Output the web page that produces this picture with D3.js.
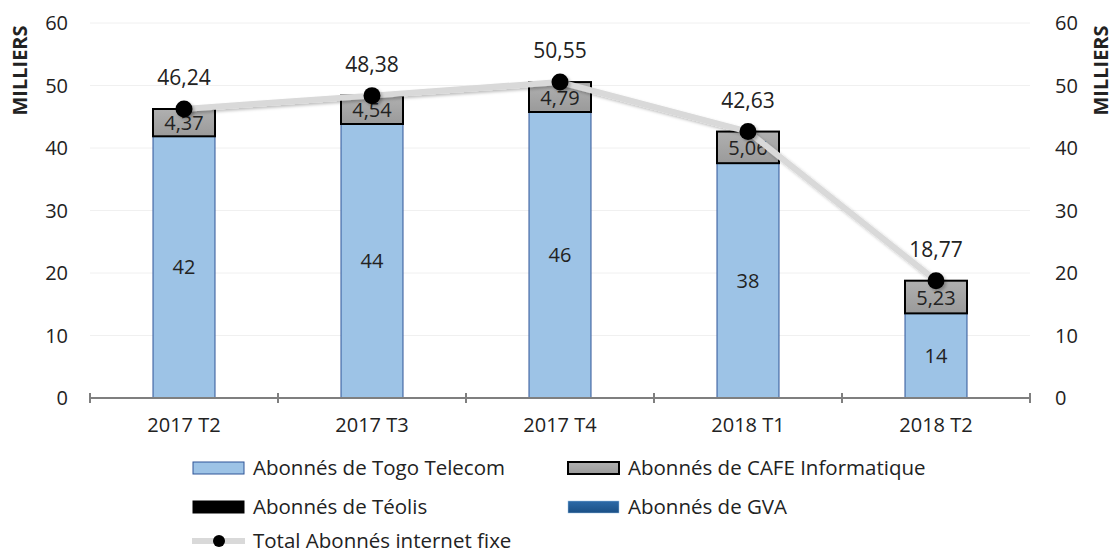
<!DOCTYPE html>
<html>
<head>
<meta charset="utf-8">
<script src="https://cdn.jsdelivr.net/npm/d3@7"></script>
<style>
body { margin: 0; background: #fff; }
text { font-family: "Open Sans", "Noto Sans", sans-serif; fill: #222; }
</style>
</head>
<body>
<div id="chart"></div>
<script>
// Data
const periods = ["2017 T2", "2017 T3", "2017 T4", "2018 T1", "2018 T2"];
const togo = [41.87, 43.84, 45.76, 37.57, 13.54];
const cafe = [4.37, 4.54, 4.79, 5.06, 5.23];
const teolis = [0, 0, 0, 0, 0];
const gva = [0, 0, 0, 0, 0];
const total = [46.24, 48.38, 50.55, 42.63, 18.77];
const yTicks = [0, 10, 20, 30, 40, 50, 60];

const W = 1113, H = 555;
const margin = { top: 23, right: 83, bottom: 157, left: 90 };
const width = W - margin.left - margin.right;
const height = H - margin.top - margin.bottom;

const svg = d3.select("#chart").append("svg")
    .attr("width", W)
    .attr("height", H);

const defs = svg.append("defs");
const gGrey = defs.append("linearGradient").attr("id", "grey").attr("x1", 0).attr("x2", 0).attr("y1", 0).attr("y2", 1);
gGrey.append("stop").attr("offset", "0%").attr("stop-color", "#b0b0b0");
gGrey.append("stop").attr("offset", "100%").attr("stop-color", "#9a9a9a");
const gBlue = defs.append("linearGradient").attr("id", "gva").attr("x1", 0).attr("x2", 0).attr("y1", 0).attr("y2", 1);
gBlue.append("stop").attr("offset", "0%").attr("stop-color", "#2c6aa8");
gBlue.append("stop").attr("offset", "100%").attr("stop-color", "#1a4f85");
const shadow = defs.append("filter").attr("id", "shadow")
    .attr("filterUnits", "userSpaceOnUse")
    .attr("x", 0).attr("y", 0).attr("width", W).attr("height", H);
shadow.append("feDropShadow").attr("dx", 2).attr("dy", 2).attr("stdDeviation", 1.5).attr("flood-color", "#000").attr("flood-opacity", 0.25);

const g = svg.append("g").attr("transform", `translate(${margin.left},${margin.top})`);

const x = d3.scaleBand().domain(periods).range([0, width]);
const y = d3.scaleLinear().domain([0, 60]).range([height, 0]);

// Gridlines
g.selectAll(".grid").data(yTicks.slice(1)).enter().append("line")
    .attr("x1", 0).attr("x2", width)
    .attr("y1", d => y(d)).attr("y2", d => y(d))
    .attr("stroke", "#f0f0f0").attr("stroke-width", 1);

// Y tick labels (left and right)
g.selectAll(".yl").data(yTicks).enter().append("text")
    .attr("x", -22).attr("y", d => y(d)).attr("dy", "0.35em")
    .attr("text-anchor", "end").style("font-size", "20px")
    .text(d => d);
g.selectAll(".yr").data(yTicks).enter().append("text")
    .attr("x", width + 25).attr("y", d => y(d)).attr("dy", "0.35em")
    .attr("text-anchor", "start").style("font-size", "20px")
    .text(d => d);

// Axis titles
g.append("text")
    .attr("transform", `translate(${-63},${y(50) - 15}) rotate(-90)`)
    .attr("text-anchor", "middle")
    .style("font-size", "20px").style("font-weight", "bold")
    .text("MILLIERS");
g.append("text")
    .attr("transform", `translate(${width + 78},${y(50) - 15}) rotate(-90)`)
    .attr("text-anchor", "middle")
    .style("font-size", "20px").style("font-weight", "bold")
    .text("MILLIERS");

// Bars
const barW = 62;
const bars = g.selectAll(".bar").data(periods).enter().append("g")
    .attr("transform", d => `translate(${x(d) + x.bandwidth() / 2 - barW / 2},0)`);

bars.append("rect")
    .attr("y", (d, i) => y(togo[i]))
    .attr("width", barW)
    .attr("height", (d, i) => y(0) - y(togo[i]))
    .attr("fill", "#9dc3e6")
    .attr("stroke", "#2f5597").attr("stroke-width", 1);

bars.append("rect")
    .attr("y", (d, i) => y(togo[i] + cafe[i]))
    .attr("width", barW)
    .attr("height", (d, i) => y(togo[i]) - y(togo[i] + cafe[i]))
    .attr("fill", "url(#grey)")
    .attr("stroke", "#000").attr("stroke-width", 2);

bars.append("text")
    .attr("x", barW / 2)
    .attr("y", (d, i) => y(togo[i] / 2))
    .attr("dy", "0.35em").attr("text-anchor", "middle")
    .style("font-size", "20px")
    .text((d, i) => Math.round(togo[i]));

bars.append("text")
    .attr("x", barW / 2)
    .attr("y", (d, i) => y(togo[i] + cafe[i] / 2))
    .attr("dy", "0.38em").attr("text-anchor", "middle")
    .style("font-size", "20px")
    .text((d, i) => cafe[i].toFixed(2).replace(".", ","));

// X axis
g.append("line")
    .attr("x1", 0).attr("x2", width)
    .attr("y1", y(0)).attr("y2", y(0))
    .attr("stroke", "#7f7f7f").attr("stroke-width", 2);
const tickPos = periods.map(p => x(p)).concat([width]);
g.selectAll(".xt").data(tickPos).enter().append("line")
    .attr("x1", d => d).attr("x2", d => d)
    .attr("y1", y(0) - 5).attr("y2", y(0) + 5)
    .attr("stroke", "#7f7f7f").attr("stroke-width", 2);
g.selectAll(".xl").data(periods).enter().append("text")
    .attr("x", d => x(d) + x.bandwidth() / 2)
    .attr("y", y(0) + 27)
    .attr("dy", "0.35em")
    .attr("text-anchor", "middle").style("font-size", "20px")
    .text(d => d);

// Total line
const line = d3.line()
    .x((d, i) => x(periods[i]) + x.bandwidth() / 2)
    .y(d => y(d));
g.append("path")
    .datum(total)
    .attr("d", line)
    .attr("fill", "none")
    .attr("stroke", "#d9d9d9").attr("stroke-width", 6)
    .attr("stroke-linejoin", "round")
    .attr("filter", "url(#shadow)");
g.selectAll(".dot").data(total).enter().append("circle")
    .attr("cx", (d, i) => x(periods[i]) + x.bandwidth() / 2)
    .attr("cy", d => y(d))
    .attr("r", 8.5)
    .attr("fill", "#000")
    .attr("filter", "url(#shadow)");
g.selectAll(".tl").data(total).enter().append("text")
    .attr("x", (d, i) => x(periods[i]) + x.bandwidth() / 2)
    .attr("y", d => y(d) - 31)
    .attr("dy", "0.35em")
    .attr("text-anchor", "middle").style("font-size", "21px")
    .text(d => d.toFixed(2).replace(".", ","));

// Legend
const legend = svg.append("g");
const legendItems = [
    { label: "Abonnés de Togo Telecom", x: 192, y: 468, type: "rect", fill: "#9dc3e6", stroke: "#2f5597", sw: 1 },
    { label: "Abonnés de CAFE Informatique", x: 567, y: 468, type: "rect", fill: "url(#grey)", stroke: "#000", sw: 2 },
    { label: "Abonnés de Téolis", x: 192, y: 507, type: "rect", fill: "#000", stroke: "#000", sw: 1 },
    { label: "Abonnés de GVA", x: 567, y: 507, type: "rect", fill: "url(#gva)", stroke: "#9dc3e6", sw: 0.5 },
    { label: "Total Abonnés internet fixe", x: 192, y: 541, type: "line" }
];
legendItems.forEach(it => {
    const lg = legend.append("g").attr("transform", `translate(${it.x},${it.y})`);
    if (it.type === "rect") {
        lg.append("rect")
            .attr("x", 1).attr("y", -6)
            .attr("width", 51).attr("height", 12)
            .attr("fill", it.fill).attr("stroke", it.stroke).attr("stroke-width", it.sw);
    } else {
        lg.append("line")
            .attr("x1", 0).attr("x2", 53).attr("y1", 0).attr("y2", 0)
            .attr("stroke", "#d9d9d9").attr("stroke-width", 6);
        lg.append("circle").attr("cx", 27).attr("cy", 0).attr("r", 6).attr("fill", "#000");
    }
    lg.append("text")
        .attr("x", 61).attr("y", 0).attr("dy", "0.35em")
        .style("font-size", "20.5px")
        .text(it.label);
});
</script>
</body>
</html>
